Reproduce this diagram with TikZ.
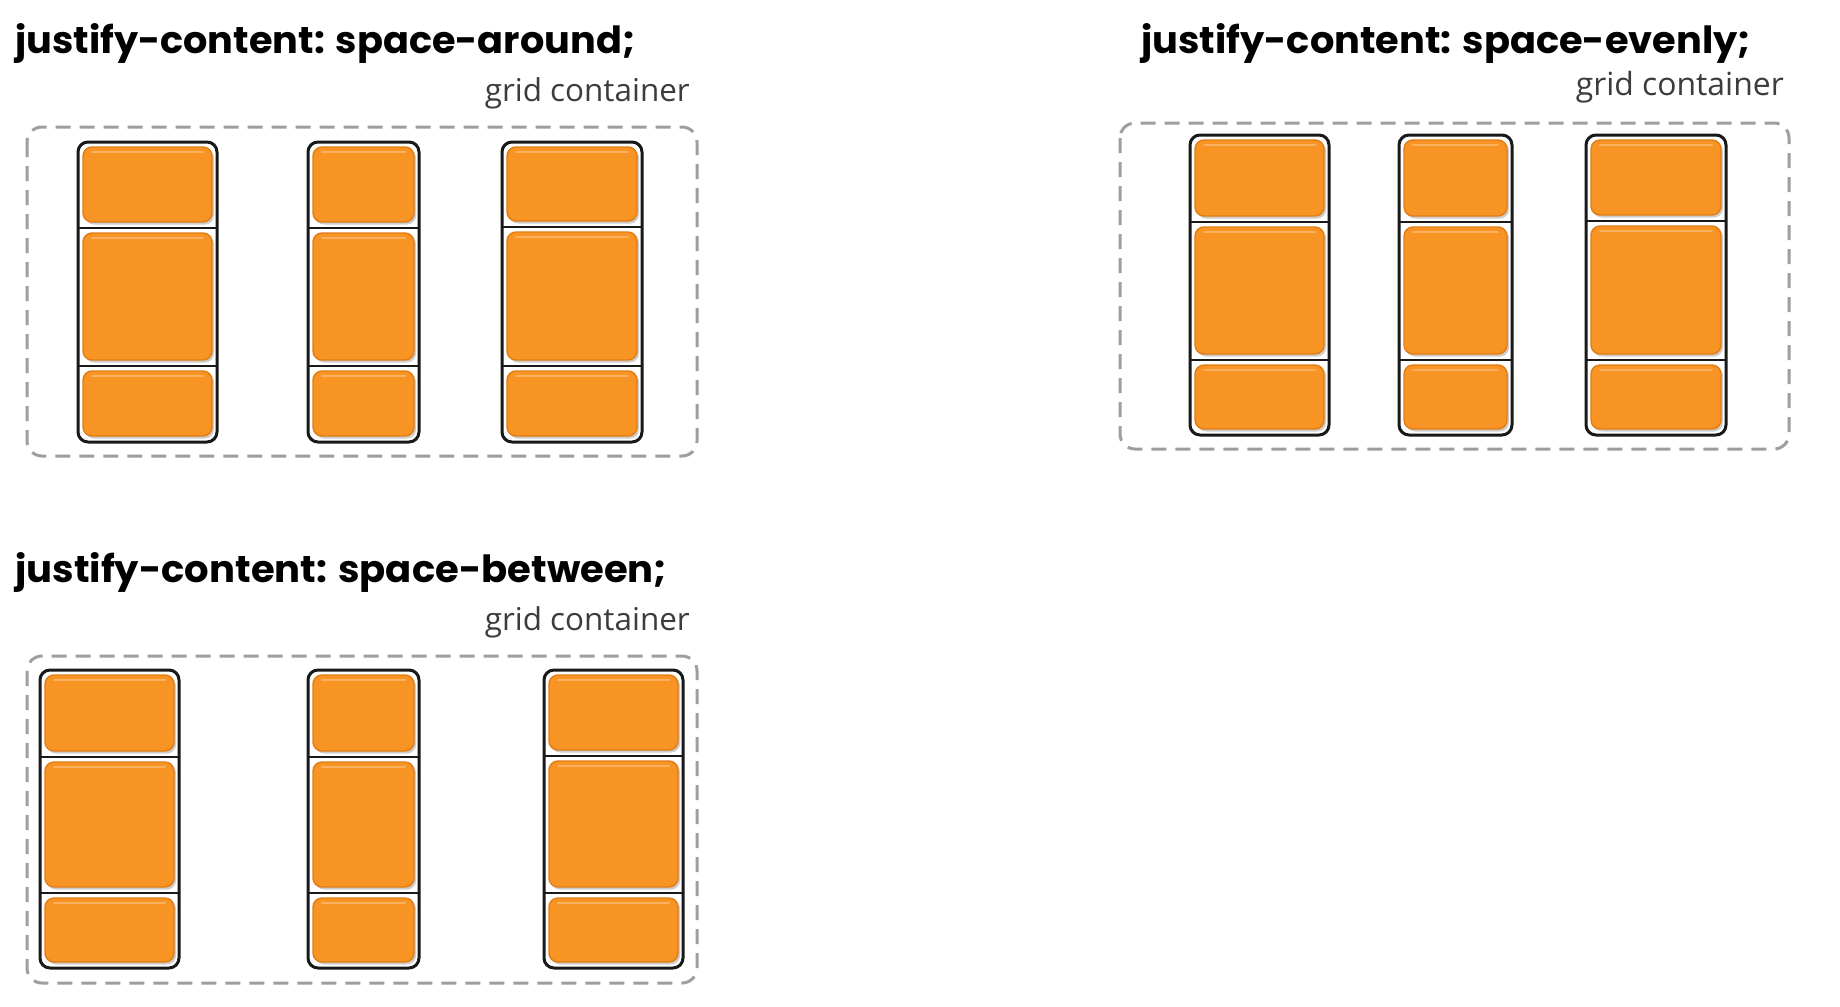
\documentclass[tikz,border=0pt]{standalone}
\usepackage{fontspec}
\setmainfont{Poppins}
\newfontfamily\labelfont{Open Sans}
\usepackage{graphicx}
\definecolor{boxorange}{RGB}{247,148,36}
\definecolor{boxedge}{RGB}{226,124,20}
\definecolor{boxhi}{RGB}{251,178,96}
\definecolor{dashgray}{RGB}{158,158,158}
\definecolor{labelgray}{RGB}{60,60,60}
\definecolor{shadowgray}{RGB}{205,205,205}
\newcommand{\drawgridcol}[6]{%
  \foreach \ta/\tb in {#3/#4, #4/#5, #5/#6}{
    \fill[shadowgray, rounded corners=9pt] (#1+7, \ta+7) rectangle (#2-3, \tb-3.5);
    \draw[cellbox] (#1+5, \ta+5) rectangle (#2-5, \tb-6);
    \draw[boxhi, line width=1.6pt, line cap=round] (#1+14, \ta+10) -- (#2-14, \ta+10);
  }
  \draw[colframe] (#1,#3) rectangle (#2,#6);
  \draw[divline] (#1,#4) -- (#2,#4);
  \draw[divline] (#1,#5) -- (#2,#5);
}
\tikzset{
  cellbox/.style={fill=boxorange, draw=boxedge, line width=1.4pt, rounded corners=9pt},
  colframe/.style={draw=black!90, line width=3pt, rounded corners=10pt},
  divline/.style={draw=black!90, line width=2.6pt},
  container/.style={draw=dashgray, line width=3pt, dash pattern=on 15pt off 9pt, rounded corners=15pt},
  titletext/.style={inner sep=0pt, anchor=base west, font=\bfseries},
  gridlabel/.style={inner sep=0pt, anchor=base east, text=labelgray, font=\labelfont},
}
\begin{document}
\begin{tikzpicture}[x=1pt, y=-1pt]
\useasboundingbox (0,0) rectangle (1840,1007);
\fill[white] (0,0) rectangle (1840,1007);

% Panel 1: space-around
\node[titletext] (t1) at (15,53) {\resizebox{620pt}{30pt}{justify-content: space-around;}};
\node[gridlabel] (g1) at (690,101) {\resizebox{205pt}{!}{grid container}};
\draw[container] (27,127) rectangle (697,456);
\drawgridcol{78}{217}{142}{228}{366}{442}
\drawgridcol{308}{419}{142}{228}{366}{442}
\drawgridcol{502}{642}{142}{227}{366}{442}

% Panel 2: space-evenly
\node[titletext] (t2) at (1141,53) {\resizebox{610pt}{30pt}{justify-content: space-evenly;}};
\node[gridlabel] (g2) at (1784,95) {\resizebox{208pt}{!}{grid container}};
\draw[container] (1120,123) rectangle (1789,449);
\drawgridcol{1190}{1329}{135}{222}{360}{435}
\drawgridcol{1399}{1512}{135}{222}{360}{435}
\drawgridcol{1586}{1726}{135}{221}{360}{435}

% Panel 3: space-between
\node[titletext] (t3) at (15,582) {\resizebox{652pt}{30pt}{justify-content: space-between;}};
\node[gridlabel] (g3) at (690,630) {\resizebox{205pt}{!}{grid container}};
\draw[container] (27,656) rectangle (697,983);
\drawgridcol{40}{179}{670}{757}{893}{968}
\drawgridcol{308}{419}{670}{757}{893}{968}
\drawgridcol{544}{683}{670}{756}{893}{968}
\end{tikzpicture}
\end{document}
